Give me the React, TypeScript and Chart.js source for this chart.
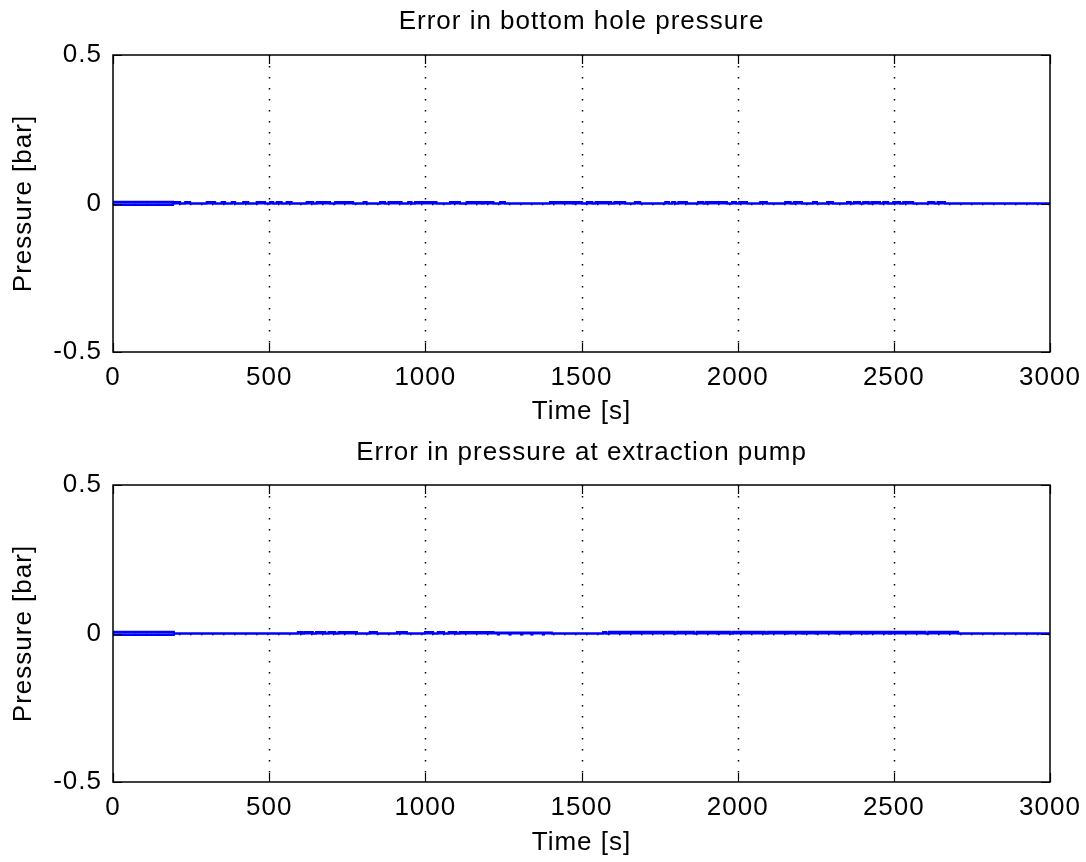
import React, { useEffect, useRef } from "react";
import { Chart, registerables } from "chart.js";

Chart.register(...registerables);

// ---------- data ----------
const xTickValues = [0, 500, 1000, 1500, 2000, 2500, 3000];
const yTickValues = [-0.5, 0, 0.5];

const topTitle = "Error in bottom hole pressure";
const bottomTitle = "Error in pressure at extraction pump";
const xAxisLabel = "Time [s]";
const yAxisLabel = "Pressure [bar]";

// [start time (s), end time (s), error (bar)]
const topPositiveBursts: [number, number, number][] = [
  [0, 192, 0.006], [196, 215, 0.005], [231, 247, 0.005], [300, 327, 0.005], [348, 359, 0.005],
  [380, 391, 0.005], [417, 433, 0.005], [460, 487, 0.005], [503, 513, 0.005], [524, 540, 0.005],
  [556, 572, 0.005], [620, 641, 0.005], [652, 695, 0.005], [711, 769, 0.005], [802, 812, 0.005],
  [855, 871, 0.005], [882, 924, 0.005], [945, 956, 0.005], [967, 1036, 0.005], [1079, 1111, 0.005],
  [1132, 1181, 0.005], [1186, 1218, 0.005], [1239, 1255, 0.005], [1399, 1474, 0.005], [1480, 1502, 0.005],
  [1517, 1535, 0.005], [1545, 1595, 0.005], [1605, 1640, 0.005], [1671, 1688, 0.005], [1768, 1780, 0.005],
  [1790, 1800, 0.005], [1810, 1838, 0.005], [1873, 1890, 0.005], [1898, 1966, 0.005], [1982, 1995, 0.005],
  [2005, 2030, 0.005], [2072, 2094, 0.005], [2152, 2170, 0.005], [2180, 2206, 0.005], [2241, 2254, 0.005],
  [2286, 2305, 0.005], [2350, 2362, 0.005], [2372, 2392, 0.005], [2402, 2420, 0.005], [2428, 2456, 0.005],
  [2466, 2482, 0.005], [2498, 2520, 0.005], [2530, 2562, 0.005], [2610, 2630, 0.005], [2640, 2664, 0.005],
];
const topNegativeBursts: [number, number, number][] = [
  [0, 192, -0.005],
];

const bottomPositiveBursts: [number, number, number][] = [
  [0, 195, 0.006], [592, 605, 0.005], [612, 640, 0.005], [650, 680, 0.005], [690, 712, 0.005],
  [722, 781, 0.005], [822, 845, 0.005], [909, 941, 0.005], [999, 1025, 0.005], [1040, 1060, 0.005],
  [1075, 1100, 0.005], [1110, 1218, 0.005], [1218, 1405, 0.003], [1569, 1580, 0.005], [1588, 1797, 0.006],
  [1804, 1860, 0.006], [1868, 1934, 0.006], [1940, 1978, 0.006], [1985, 2090, 0.006], [2097, 2154, 0.006],
  [2160, 2207, 0.006], [2213, 2250, 0.006], [2256, 2314, 0.006], [2320, 2362, 0.006], [2368, 2410, 0.006],
  [2416, 2485, 0.006], [2491, 2602, 0.006], [2610, 2706, 0.006],
];
const bottomNegativeBursts: [number, number, number][] = [
  [0, 195, -0.005], [1232, 1236, -0.003], [1269, 1273, -0.003], [1307, 1311, -0.003],
  [1339, 1343, -0.003], [1376, 1380, -0.003],
];

// ---------- helpers ----------
function burstsToPoints(bursts: [number, number, number][]) {
  const tMin = xTickValues[0];
  const tMax = xTickValues[xTickValues.length - 1];
  const pts: { x: number; y: number }[] = [{ x: tMin, y: 0 }];
  for (const [s, e, h] of bursts) {
    pts.push({ x: s, y: 0 }, { x: s, y: h }, { x: e, y: h }, { x: e, y: 0 });
  }
  pts.push({ x: tMax, y: 0 });
  return pts;
}

const FONT = "'Liberation Sans', Arial, Helvetica, sans-serif";
const FS = 26;

function setSpacing(chart: any) {
  const ctx = chart.ctx as any;
  if (ctx && "letterSpacing" in ctx) ctx.letterSpacing = "1px";
}

const matlabAxes = {
  id: "matlabAxes",
  beforeUpdate(chart: any) {
    setSpacing(chart);
  },
  beforeDraw(chart: any) {
    setSpacing(chart);
  },
  beforeDatasetsDraw(chart: any) {
    const { ctx, chartArea, scales } = chart;
    const { left, right, top, bottom } = chartArea;
    const xs = scales.x;
    const ys = scales.y;
    ctx.save();
    ctx.strokeStyle = "#000";
    ctx.lineWidth = 1.5;
    ctx.setLineDash([1.5, 9.5]);
    xs.ticks.forEach((t: any) => {
      if (t.value <= xs.min || t.value >= xs.max) return;
      const px = Math.round(xs.getPixelForValue(t.value)) + 0.5;
      ctx.beginPath();
      ctx.moveTo(px, top);
      ctx.lineTo(px, bottom);
      ctx.stroke();
    });
    ys.ticks.forEach((t: any) => {
      if (t.value <= ys.min || t.value >= ys.max) return;
      const py = Math.round(ys.getPixelForValue(t.value)) + 0.5;
      ctx.beginPath();
      ctx.moveTo(left, py);
      ctx.lineTo(right, py);
      ctx.stroke();
    });
    ctx.restore();
  },
  afterDatasetsDraw(chart: any) {
    const { ctx, chartArea, scales } = chart;
    const { left, right, top, bottom } = chartArea;
    const xs = scales.x;
    const ys = scales.y;
    const tl = 9;
    ctx.save();
    ctx.strokeStyle = "#000";
    ctx.lineWidth = 1.5;
    ctx.setLineDash([]);
    ctx.strokeRect(left, top, right - left, bottom - top);
    ctx.lineWidth = 1.2;
    ctx.beginPath();
    xs.ticks.forEach((t: any) => {
      const px = Math.round(xs.getPixelForValue(t.value)) + 0.5;
      ctx.moveTo(px, bottom);
      ctx.lineTo(px, bottom - tl);
      ctx.moveTo(px, top);
      ctx.lineTo(px, top + tl);
    });
    ys.ticks.forEach((t: any) => {
      const py = Math.round(ys.getPixelForValue(t.value)) + 0.5;
      ctx.moveTo(left, py);
      ctx.lineTo(left + tl, py);
      ctx.moveTo(right, py);
      ctx.lineTo(right - tl, py);
    });
    ctx.stroke();
    ctx.restore();
  },
  afterDraw(chart: any) {
    const { ctx, chartArea } = chart;
    const title = chart.options.plugins.matlabAxes?.title ?? "";
    ctx.save();
    setSpacing(chart);
    ctx.fillStyle = "#000";
    ctx.font = `${FS}px ${FONT}`;
    ctx.textAlign = "center";
    ctx.textBaseline = "middle";
    ctx.fillText(title, (chartArea.left + chartArea.right) / 2, 22);
    ctx.restore();
  },
};

function makeChart(
  canvas: HTMLCanvasElement,
  title: string,
  pos: [number, number, number][],
  neg: [number, number, number][],
  plotTop: number,
  xAxisHeight: number
) {
  const lineStyle = {
    borderColor: "#0000ff",
    backgroundColor: "#0000ff",
    borderWidth: 2,
    pointRadius: 0,
    tension: 0,
    fill: "origin" as const,
  };
  return new Chart(canvas, {
    type: "line",
    data: {
      datasets: [
        { ...lineStyle, data: burstsToPoints(pos) },
        { ...lineStyle, data: burstsToPoints(neg) },
      ],
    },
    plugins: [matlabAxes],
    options: {
      animation: false,
      responsive: false,
      maintainAspectRatio: false,
      events: [],
      layout: { padding: { left: 0, right: 36, top: plotTop, bottom: 0 } },
      plugins: {
        legend: { display: false },
        tooltip: { enabled: false },
        title: { display: false },
        // @ts-ignore
        matlabAxes: { title },
      },
      scales: {
        x: {
          type: "linear",
          min: xTickValues[0],
          max: xTickValues[xTickValues.length - 1],
          afterBuildTicks: (scale: any) => {
            scale.ticks = xTickValues.map((v) => ({ value: v }));
          },
          afterFit: (scale: any) => {
            scale.height = xAxisHeight;
            scale.paddingLeft = 0;
            scale.paddingRight = 0;
          },
          grid: { display: false, drawTicks: false },
          border: { display: false },
          ticks: {
            color: "#000",
            font: { family: FONT, size: FS },
            padding: 10,
            maxRotation: 0,
            autoSkip: false,
            callback: (v: any) => String(v),
          },
          title: {
            display: true,
            text: xAxisLabel,
            color: "#000",
            font: { family: FONT, size: FS },
            padding: { top: 0, bottom: 3.4 },
          },
        },
        y: {
          type: "linear",
          min: yTickValues[0],
          max: yTickValues[yTickValues.length - 1],
          afterBuildTicks: (scale: any) => {
            scale.ticks = yTickValues.map((v) => ({ value: v }));
          },
          afterFit: (scale: any) => {
            scale.width = 113;
            scale.paddingTop = 0;
            scale.paddingBottom = 0;
          },
          grid: { display: false, drawTicks: false },
          border: { display: false },
          ticks: {
            color: "#000",
            font: { family: FONT, size: FS },
            padding: 11,
            autoSkip: false,
            callback: (v: any) => String(v),
          },
          title: {
            display: true,
            text: yAxisLabel,
            color: "#000",
            font: { family: FONT, size: FS },
            padding: { top: 8, bottom: 0 },
          },
        },
      },
    },
  });
}

export default function App() {
  const topRef = useRef<HTMLCanvasElement>(null);
  const botRef = useRef<HTMLCanvasElement>(null);

  useEffect(() => {
    const c1 = makeChart(topRef.current!, topTitle, topPositiveBursts, topNegativeBursts, 55, 79);
    const c2 = makeChart(botRef.current!, bottomTitle, bottomPositiveBursts, bottomNegativeBursts, 54, 80);
    return () => {
      c1.destroy();
      c2.destroy();
    };
  }, []);

  return (
    <div
      style={{
        position: "absolute",
        left: 0,
        top: 0,
        width: 1086,
        height: 862,
        background: "#fff",
      }}
    >
      <canvas ref={topRef} width={1086} height={431} style={{ display: "block" }} />
      <canvas ref={botRef} width={1086} height={431} style={{ display: "block" }} />
    </div>
  );
}
